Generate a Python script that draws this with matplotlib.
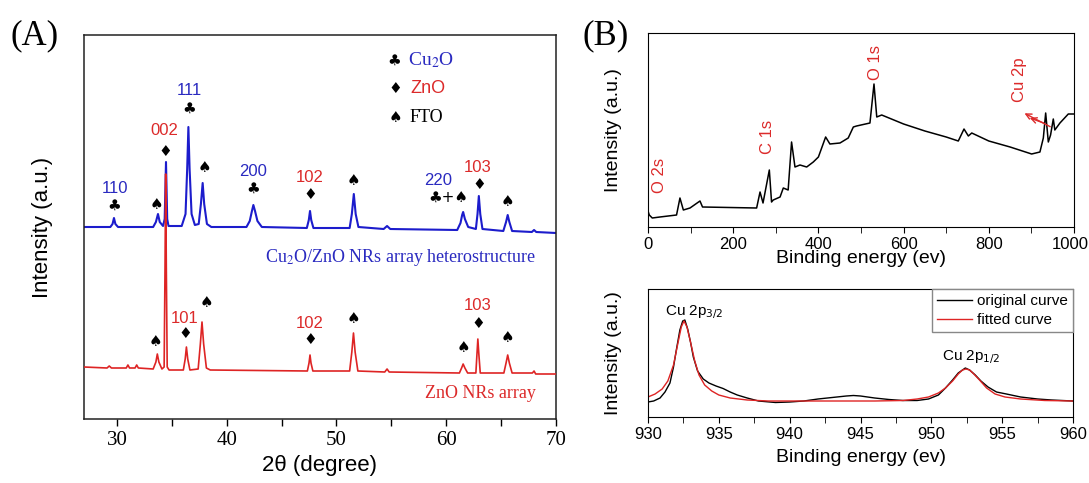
import matplotlib
matplotlib.use("Agg")
import matplotlib.pyplot as plt
from matplotlib.transforms import ScaledTranslation

SANS = "Liberation Sans"
SERIF = "Liberation Serif"
SYM = "DejaVu Sans"
BLUE = "#1c1ccc"
RED = "#de2424"
TBLUE = "#2a2ac0"
TRED = "#dc2a2a"

# ---- (A) XRD, traced points (2theta, intensity a.u.) ----
cu2o_x = [27.0, 29.4, 29.6, 29.73, 29.86, 30.1, 33.3, 33.55, 33.74, 33.9, 34.2, 34.35, 34.47, 34.58,
          34.7, 35.9, 36.25, 36.4, 36.51, 36.62, 36.8, 37.1, 37.45, 37.65, 37.81, 37.95, 38.2, 38.6,
          41.8, 42.1, 42.3, 42.43, 42.58, 42.8, 43.2, 47.3, 47.48, 47.59, 47.7, 47.9, 51.2, 51.4,
          51.58, 51.75, 52.0, 54.3, 54.61, 54.9, 61.0, 61.3, 61.45, 61.54, 61.7, 62.0, 62.7, 62.85,
          62.97, 63.1, 63.3, 65.2, 65.45, 65.6, 65.75, 66.0, 67.8, 68.0, 68.2, 70.0]
cu2o_y = [192, 192, 195, 201, 195, 192, 192, 197, 205, 197, 193, 200, 257, 200,
          193, 193, 205, 250, 292, 250, 205, 194, 195, 215, 236, 215, 195, 192,
          192, 198, 208, 214, 208, 198, 192, 191, 199, 208, 199, 191, 191, 205,
          225, 205, 192, 190, 193, 190, 189, 196, 204, 207, 200, 192, 190, 205,
          223, 205, 190, 188, 197, 204, 197, 188, 187, 189, 187, 186]

zno_x = [27.0, 29.1, 29.3, 29.5, 30.85, 31.0, 31.15, 31.65, 31.8, 31.95, 33.3, 33.55, 33.68, 33.82,
         34.1, 34.3, 34.38, 34.44, 34.5, 34.58, 34.75, 36.05, 36.22, 36.33, 36.45, 36.65, 37.4,
         37.6, 37.75, 37.9, 38.15, 38.5, 47.35, 47.5, 47.59, 47.68, 47.85, 51.2, 51.4, 51.55, 51.7,
         51.95, 54.4, 54.61, 54.8, 61.2, 61.4, 61.54, 61.7, 61.95, 62.7, 62.8, 62.88, 62.97, 63.1,
         65.25, 65.45, 65.6, 65.75, 66.0, 67.85, 68.0, 68.15, 70.0]
zno_y = [52, 51, 53, 51, 51, 54, 51, 51, 54, 51, 50, 57, 65, 57,
         50, 52, 150, 245, 150, 52, 49, 49, 60, 72, 60, 49, 50,
         75, 97, 75, 51, 49, 48, 56, 64, 56, 48, 48, 67, 86, 67,
         48, 47, 50, 47, 46, 51, 55, 51, 46, 46, 65, 80, 65, 46,
         46, 56, 64, 56, 46, 46, 48, 45, 45]

# peak labels (hkl) and phase symbols
hkl_text = ["110", "002", "111", "200", "102", "220", "103", "101", "102", "103"]
hkl_x = [29.8, 34.3, 36.6, 42.43, 47.59, 59.3, 62.9, 36.17, 47.59, 62.83]
hkl_y = [231, 289, 329, 248, 242, 239, 252, 101, 96, 114]
hkl_col = [TBLUE, TRED, TBLUE, TBLUE, TRED, TBLUE, TRED, TRED, TRED, TRED]

sym_text = ["\u2663", "\u2660", "\u2666", "\u2663", "\u2660", "\u2663", "\u2666", "\u2660",
            "\u2663+\u2660", "\u2666", "\u2660",
            "\u2660", "\u2666", "\u2660", "\u2666", "\u2660", "\u2660", "\u2666", "\u2660"]
sym_x = [29.73, 33.6, 34.4, 36.56, 37.93, 42.43, 47.59, 51.58, 60.17, 62.97, 65.6,
         33.5, 36.2, 38.15, 47.59, 51.55, 61.54, 62.88, 65.6]
sym_y = [214, 215, 268, 311, 252, 231, 225, 239, 221, 235, 218,
         77, 86, 117, 80, 101, 71, 95, 81]

# ---- (B) XPS survey ----
survey_x = [0, 3, 10, 28, 67, 75, 83, 98.6, 122, 128, 255, 263, 270, 284.8, 290, 294, 310, 317.6,
            329, 337, 345, 356.8, 372.5, 388, 400, 417, 427, 450.7, 470, 482, 489.6, 521, 530.5,
            537, 548.6, 600, 650, 700, 728.4, 741.8, 752, 760, 800, 850, 900.6, 920, 928, 933.5,
            939.7, 945, 951.4, 955, 967, 986.6, 1000]
survey_y = [16, 12, 9, 10, 12, 29, 17, 19, 26, 20, 19, 35, 24, 57, 25, 27, 30, 39,
            37, 85, 60, 62, 60, 65, 70, 90, 83, 84, 89, 100, 101, 104, 143,
            110, 112, 103, 96, 90, 86, 98, 91, 94, 86, 80, 73, 75, 89, 114,
            85, 92, 108, 97, 104, 113, 113]
survey_lbl = ["O 2s", "C 1s", "O 1s", "Cu 2p"]
survey_lx = [26, 281, 533, 873]
survey_ly = [52, 90, 164, 147]

# ---- (B) Cu 2p high resolution ----
orig_x = [930.0, 930.4, 930.85, 931.2, 931.55, 931.8, 932.0, 932.25, 932.45, 932.6, 932.8, 933.0,
          933.2, 933.5, 933.9, 934.3, 934.8, 935.3, 935.8, 936.3, 937.0, 937.8, 939.0, 940.0,
          941.0, 942.0, 943.0, 944.0, 944.5, 945.0, 946.0, 947.0, 948.0, 949.0, 949.8, 950.5,
          951.0, 951.5, 951.9, 952.2, 952.4, 952.7, 953.1, 953.5, 954.0, 954.6, 955.3, 956.3,
          957.5, 958.5, 960.0]
orig_y = [15, 16, 19, 25, 34, 50, 67, 87, 96, 97, 88, 75,
          60, 46, 38, 34, 31, 28.5, 25, 22, 19, 16, 14.5, 15,
          16, 18, 19.5, 21, 21.5, 21, 19, 17.5, 16.5, 16.5, 18, 22,
          29, 37, 44, 47, 49, 47, 42, 36, 30, 25, 23, 20,
          18, 17, 16]
fit_x = [930.0, 930.5, 931.0, 931.4, 931.8, 932.1, 932.35, 932.54, 932.75, 933.0, 933.3, 933.6,
         934.0, 934.5, 935.0, 935.8, 937.0, 938.5, 946.0, 948.0, 949.0, 949.8, 950.5, 951.0,
         951.5, 951.9, 952.2, 952.45, 952.7, 953.0, 953.4, 953.9, 954.5, 955.2, 956.3, 958.0,
         960.0]
fit_y = [20, 23, 28, 36, 52, 73, 90, 96, 90, 75, 56, 42,
         32, 26, 22, 19, 17, 16, 16, 16.5, 18, 20, 24, 29,
         36, 43, 47, 48, 47, 43, 37, 29, 23, 20, 18, 16.5,
         16]

W, H = 1089, 483
fig = plt.figure(figsize=(W / 100, H / 100), dpi=100)


def frame(left, top, right, bottom):
    return fig.add_axes([left / W, 1 - bottom / H, (right - left) / W, (bottom - top) / H])


# ===== panel A =====
ax = frame(84, 35, 556, 419)
ax.plot(cu2o_x, cu2o_y, color=BLUE, lw=1.5, zorder=2)
ax.plot(zno_x, zno_y, color=RED, lw=1.2, zorder=3)
ax.set_xlim(27, 70)
ax.set_ylim(0, 384)
ax.set_yticks([])
ax.set_xticks([30, 40, 50, 60, 70])
ax.set_xticks([35, 45, 55, 65], minor=True)
ax.tick_params(axis="x", which="both", direction="out", length=5, width=1)
for lab in ax.get_xticklabels():
    lab.set_fontfamily(SERIF)
    lab.set_fontsize(15)
ax.set_xlabel("2\u03b8 (degree)", family=SANS, fontsize=16)
ax.xaxis.set_label_coords(0.5, -0.095)
ax.set_ylabel("Intensity (a.u.)", family=SANS, fontsize=16)
ax.yaxis.set_label_coords(-0.065, 0.5)
for sp in ax.spines.values():
    sp.set_linewidth(1.1)
    sp.set_color("#222222")

for t, x, y, c in zip(hkl_text, hkl_x, hkl_y, hkl_col):
    ax.text(x, y, t, color=c, family=SANS, fontsize=12, ha="center", va="center")
for t, x, y in zip(sym_text, sym_x, sym_y):
    ax.text(x, y, t, color="black", family=SYM, fontsize=11, ha="center", va="center")

# legend of phases
ax.text(55.25, 359, "\u2663", family=SYM, fontsize=11, ha="center", va="center")
ax.text(56.5, 359, "Cu$_2$O", family=SERIF, fontsize=14, color=TBLUE, va="center",
        math_fontfamily="stix")
ax.text(55.4, 331, "\u2666", family=SYM, fontsize=11, ha="center", va="center")
ax.text(56.7, 331, "ZnO", family=SANS, fontsize=13, color=TRED, va="center")
ax.text(55.4, 302, "\u2660", family=SYM, fontsize=11, ha="center", va="center")
ax.text(56.7, 302, "FTO", family=SERIF, fontsize=13, color="black", va="center")

ax.text(68.2, 162, "Cu$_2$O/ZnO NRs array heterostructure", family=SERIF, fontsize=13,
        color=TBLUE, ha="right", va="center", math_fontfamily="stix")
ax.text(68.2, 26, "ZnO NRs array", family=SERIF, fontsize=13, color=TRED,
        ha="right", va="center")

fig.text(10 / W, 1 - 36 / H, "(A)", family=SERIF, fontsize=25, va="center")
fig.text(582 / W, 1 - 36 / H, "(B)", family=SERIF, fontsize=25, va="center")

# ===== panel B top =====
bx = frame(648, 33, 1074, 227)
bx.plot(survey_x, survey_y, color="black", lw=1.1)
bx.set_xlim(0, 1000)
bx.set_ylim(0, 194)
bx.set_yticks([])
bx.set_xticks([0, 200, 400, 600, 800, 1000])
bx.set_xticks([100, 300, 500, 700, 900], minor=True)
bx.tick_params(axis="x", which="both", direction="out", length=4, labelsize=12)
for lab in bx.get_xticklabels():
    lab.set_fontfamily(SANS)
last = bx.get_xticklabels()[-1]
last.set_transform(last.get_transform() + ScaledTranslation(-4 / 100, 0, fig.dpi_scale_trans))
bx.set_xlabel("Binding energy (ev)", family=SANS, fontsize=14)
bx.xaxis.set_label_coords(0.5, -0.12)
bx.set_ylabel("Intensity (a.u.)", family=SANS, fontsize=14)
bx.yaxis.set_label_coords(-0.062, 0.5)
for t, x, y in zip(survey_lbl, survey_lx, survey_ly):
    bx.text(x, y, t, color=TRED, family=SANS, fontsize=12, rotation=90,
            ha="center", va="center")
bx.annotate("", xy=(890, 110), xytext=(935, 103),
            arrowprops=dict(arrowstyle="->", color=TRED, lw=1))
bx.annotate("", xy=(878, 115), xytext=(950, 99),
            arrowprops=dict(arrowstyle="->", color=TRED, lw=1))

# ===== panel B bottom =====
cx = frame(648, 289, 1073, 417)
cx.plot(orig_x, orig_y, color="black", lw=1.0, label="original curve")
cx.plot(fit_x, fit_y, color=RED, lw=1.0, label="fitted curve")
cx.set_xlim(930, 960)
cx.set_ylim(0, 128)
cx.set_yticks([])
cx.set_xticks([930, 935, 940, 945, 950, 955, 960])
cx.set_xticks([932.5, 937.5, 942.5, 947.5, 952.5, 957.5], minor=True)
cx.tick_params(axis="x", which="both", direction="out", length=4, labelsize=12)
for lab in cx.get_xticklabels():
    lab.set_fontfamily(SANS)
cx.set_xlabel("Binding energy (ev)", family=SANS, fontsize=14)
cx.xaxis.set_label_coords(0.5, -0.25)
cx.set_ylabel("Intensity (a.u.)", family=SANS, fontsize=14)
cx.yaxis.set_label_coords(-0.062, 0.5)
cx.text(933.3, 105, "Cu 2p$_{3/2}$", family=SANS, fontsize=11, ha="center", va="center",
        math_fontfamily="dejavusans")
cx.text(952.85, 60, "Cu 2p$_{1/2}$", family=SANS, fontsize=11, ha="center", va="center",
        math_fontfamily="dejavusans")
leg = cx.legend(loc="upper right", fancybox=False, borderaxespad=0, handlelength=2.3,
                handletextpad=0.3, borderpad=0.35, labelspacing=0.3,
                prop={"family": SANS, "size": 11}, framealpha=1)
leg.get_frame().set_edgecolor("#888888")

fig.savefig("out.png", dpi=100)
